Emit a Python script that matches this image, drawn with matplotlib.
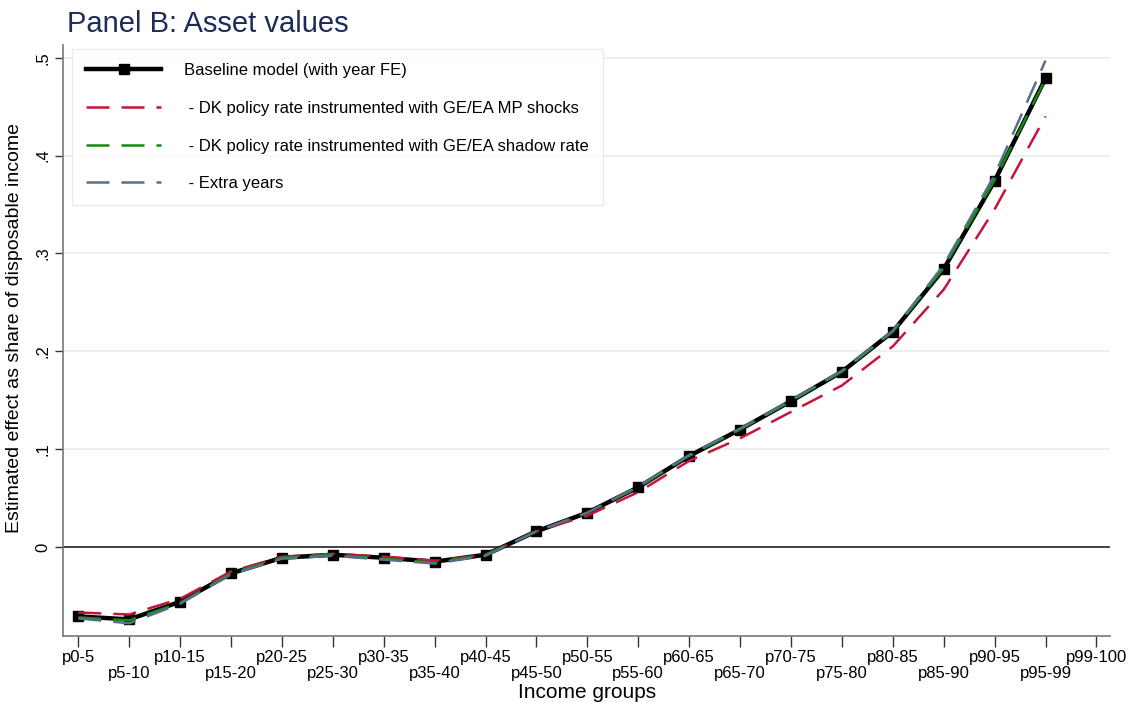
import matplotlib
matplotlib.use("Agg")
import matplotlib.pyplot as plt
from matplotlib.lines import Line2D

plt.rcParams['font.family'] = ['Liberation Sans', 'DejaVu Sans']

groups = ["p0-5", "p5-10", "p10-15", "p15-20", "p20-25", "p25-30", "p30-35",
          "p35-40", "p40-45", "p45-50", "p50-55", "p55-60", "p60-65", "p65-70",
          "p70-75", "p75-80", "p80-85", "p85-90", "p90-95", "p95-99", "p99-100"]

baseline = [-0.071, -0.074, -0.056, -0.027, -0.011, -0.008, -0.011, -0.015, -0.008,
            0.016, 0.035, 0.061, 0.093, 0.120, 0.149, 0.179, 0.220, 0.284, 0.374, 0.479]
mp_shocks = [-0.067, -0.069, -0.053, -0.025, -0.010, -0.007, -0.010, -0.014, -0.008,
             0.016, 0.032, 0.056, 0.088, 0.111, 0.138, 0.165, 0.205, 0.263, 0.345, 0.440]
shadow = [-0.072, -0.075, -0.057, -0.027, -0.011, -0.008, -0.012, -0.016, -0.008,
          0.016, 0.035, 0.061, 0.093, 0.120, 0.149, 0.179, 0.220, 0.285, 0.375, 0.478]
extra_years = [-0.073, -0.078, -0.058, -0.028, -0.012, -0.009, -0.013, -0.017, -0.009,
               0.016, 0.035, 0.062, 0.094, 0.121, 0.150, 0.180, 0.221, 0.288, 0.380, 0.497]

labels = ["Baseline model (with year FE)",
          " - DK policy rate instrumented with GE/EA MP shocks",
          " - DK policy rate instrumented with GE/EA shadow rate",
          " - Extra years"]

c_red = "#c8143c"
c_green = "#118a11"
c_blue = "#557089"

fig = plt.figure(figsize=(11.32, 7.02), dpi=100)
ax = fig.add_axes([0.0557, 0.094, 0.925, 0.842])

x = list(range(len(baseline)))
dash = (9.2, 4.8)
ax.plot(x, baseline, color="black", lw=3.2, marker="s", ms=7, zorder=3)
ax.plot(x, mp_shocks, color=c_red, lw=1.8, dashes=dash, zorder=4)
ax.plot(x, shadow, color=c_green, lw=1.8, dashes=dash, zorder=5)
ax.plot(x, extra_years, color=c_blue, lw=1.8, dashes=dash, zorder=6)

ax.axhline(0, color="#222222", lw=1.2, zorder=2)
for yv in [0.1, 0.2, 0.3, 0.4, 0.5]:
    ax.axhline(yv, color="#e8ecf0", lw=1.2, zorder=1)

ax.set_xlim(-0.3, 20.27)
ax.set_ylim(-0.091, 0.513)
ax.set_xticks(range(len(groups)))
ax.set_xticklabels([g if i % 2 == 0 else "\n" + g for i, g in enumerate(groups)],
                   fontsize=12, linespacing=1.05)
ax.set_yticks([0, 0.1, 0.2, 0.3, 0.4, 0.5])
ax.set_yticklabels(["0", ".1", ".2", ".3", ".4", ".5"], rotation=90, va="center",
                   fontsize=12)
ax.tick_params(axis="x", length=8, width=1, color="#333333", pad=2)
ax.tick_params(axis="y", length=6, width=1, color="#333333", pad=3)

for s in ["top", "right"]:
    ax.spines[s].set_visible(False)
for s in ["left", "bottom"]:
    ax.spines[s].set_color("#777777")
    ax.spines[s].set_linewidth(1.2)

ax.set_xlabel("Income groups", fontsize=15)
ax.xaxis.set_label_coords(0.5, -0.079)
ax.set_ylabel("Estimated effect as share of disposable income", fontsize=14)
ax.yaxis.set_label_coords(-0.038, 0.521)

fig.text(0.059, 0.966, "Panel B: Asset values", fontsize=21, color="#1c2b59",
         va="center", ha="left")

handles = [Line2D([0], [0], color="black", lw=3.2, marker="s", ms=7),
           Line2D([0], [0], color=c_red, lw=1.8, dashes=dash),
           Line2D([0], [0], color=c_green, lw=1.8, dashes=dash),
           Line2D([0], [0], color=c_blue, lw=1.8, dashes=dash)]
leg = ax.legend(handles, labels, loc="upper left", bbox_to_anchor=(0.0085, 0.993),
                fontsize=12, frameon=True, fancybox=False, handlelength=4.5,
                handletextpad=1.4, labelspacing=1.36, borderpad=0.85,
                borderaxespad=0)
leg.get_frame().set_edgecolor("#e4e8ec")
leg.get_frame().set_linewidth(1.0)

fig.savefig("out.png", dpi=100)
